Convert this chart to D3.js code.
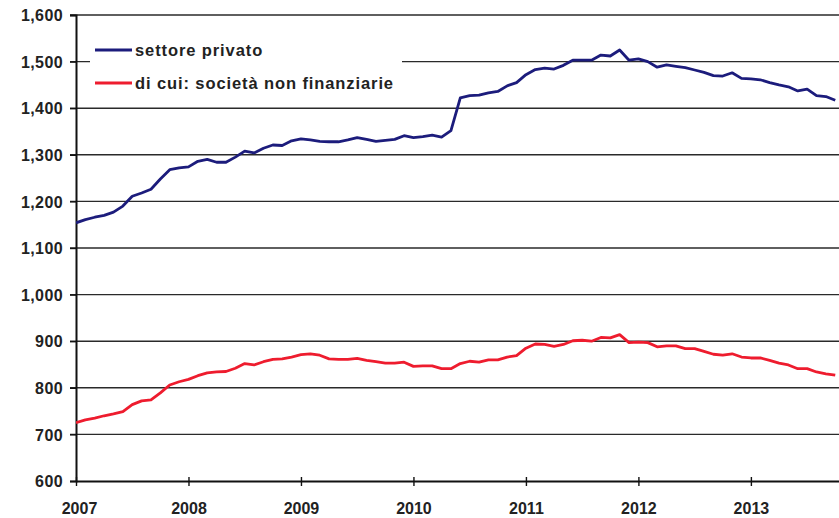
<!DOCTYPE html>
<html>
<head>
<meta charset="utf-8">
<title>Settore privato</title>
<style>
  body { margin: 0; background: #fff; }
  svg { display: block; font-family: Arial, "Liberation Sans", sans-serif; }
</style>
</head>
<body>
<svg id="chart" width="839" height="518"></svg>
<script src="https://cdn.jsdelivr.net/npm/d3@7"></script>
<script>
// monthly values from Jan 2007
var startYear = 2007;
var yearTicks = [2007, 2008, 2009, 2010, 2011, 2012, 2013];
var yTicks = [600, 700, 800, 900, 1000, 1100, 1200, 1300, 1400, 1500, 1600];
var seriesNames = ["settore privato", "di cui: società non finanziarie"];

var privato = [
  1154, 1161, 1166, 1170, 1177, 1190, 1211, 1218, 1226, 1248, 1268, 1272,
  1274, 1286, 1290, 1284, 1284, 1295, 1308, 1304, 1314, 1321, 1320, 1330,
  1334, 1332, 1329, 1328, 1328, 1332, 1337, 1333, 1329, 1331, 1333, 1341,
  1337, 1339, 1342, 1338, 1352, 1422, 1427, 1428, 1433, 1436, 1448, 1455,
  1472, 1483, 1486, 1484, 1492, 1503, 1503, 1503, 1514, 1512, 1525, 1503,
  1506, 1500, 1488, 1493, 1490, 1487, 1482, 1477, 1470, 1469, 1476, 1464,
  1463, 1461, 1455, 1450, 1446, 1437, 1441, 1427, 1425, 1417
];
var nonFin = [
  725, 731, 735, 740, 744, 749, 764, 772, 774, 789, 806, 813,
  818, 826, 832, 834, 835, 842, 852, 849, 856, 861, 862, 866,
  871, 873, 870, 862, 861, 861, 863, 859, 856, 853, 853, 855,
  846, 847, 847, 841, 841, 852, 857, 855, 860, 860, 866, 869,
  885, 894, 893, 889, 893, 901, 902, 900, 908, 907, 914, 897,
  898, 897, 888, 890, 890, 884, 884, 878, 872, 870, 873, 866,
  864, 864, 859, 853, 849, 841, 841, 834, 830, 827
];

var colors = ["#1c1c7c", "#ee1c2e"];

var svg = d3.select("#chart");
var width = 839, height = 518;
var plotLeft = 76, plotTop = 15, plotBottom = 481;

var x = d3.scaleLinear()
  .domain([0, 81.4])
  .range([plotLeft, width]);

var y = d3.scaleLinear()
  .domain([600, 1600])
  .range([plotBottom, plotTop]);

// gridlines
svg.append("g")
  .selectAll("line")
  .data(yTicks.slice(1))
  .enter().append("line")
  .attr("x1", plotLeft - 6)
  .attr("x2", width)
  .attr("y1", function (d) { return y(d) })
  .attr("y2", function (d) { return y(d) })
  .attr("stroke", "#2a2a2a")
  .attr("stroke-width", 1.4);

// y axis
var yAxis = svg.append("g")
  .attr("transform", "translate(" + plotLeft + ",0)")
  .call(d3.axisLeft(y).tickValues(yTicks).tickFormat(d3.format(",")).tickSize(6));
yAxis.select(".domain").attr("stroke", "#111").attr("stroke-width", 2);
yAxis.selectAll(".tick line").attr("stroke", "#111").attr("stroke-width", 1.4);
yAxis.selectAll("text")
  .attr("x", -13)
  .attr("dy", "0.36em")
  .style("font-size", "16px")
  .style("font-weight", "bold")
  .style("letter-spacing", "0.4px")
  .style("fill", "#222");

// x axis
var xAxis = svg.append("g")
  .attr("transform", "translate(0," + plotBottom + ")")
  .call(d3.axisBottom(x)
    .tickValues(yearTicks.map(function (yr) { return (yr - startYear) * 12 }))
    .tickFormat(function (m) { return startYear + m / 12 })
    .tickSizeInner(5).tickSizeOuter(0));
xAxis.select(".domain").attr("stroke", "#111").attr("stroke-width", 2);
xAxis.selectAll(".tick line").attr("stroke", "#111").attr("stroke-width", 1.4).attr("y1", -4);
xAxis.selectAll("text")
  .attr("y", 22)
  .attr("dy", "0.71em")
  .style("font-size", "16px")
  .style("font-weight", "bold")
  .style("fill", "#222");
xAxis.select(".tick text").attr("dx", 3);

// lines
var line = d3.line()
  .x(function (d, i) { return x(i) })
  .y(function (d) { return y(d) });

svg.append("defs").append("clipPath").attr("id", "clip")
  .append("rect").attr("x", plotLeft).attr("y", 0).attr("width", width - plotLeft).attr("height", plotBottom);

[nonFin, privato].forEach(function (vals, k) {
  svg.append("path")
    .datum(vals)
    .attr("clip-path", "url(#clip)")
    .attr("fill", "none")
    .attr("stroke", colors[1 - k])
    .attr("stroke-width", 2.8)
    .attr("stroke-linejoin", "round")
    .attr("d", line);
});

// legend
var legend = svg.append("g");
legend.append("rect")
  .attr("x", 90).attr("y", 36)
  .attr("width", 312).attr("height", 62)
  .attr("fill", "#fff");
seriesNames.forEach(function (name, i) {
  var ly = 50 + i * 33;
  legend.append("line")
    .attr("x1", 95).attr("x2", 132)
    .attr("y1", ly).attr("y2", ly)
    .attr("stroke", colors[i])
    .attr("stroke-width", 2.8);
  legend.append("text")
    .attr("x", 135).attr("y", ly)
    .attr("dy", "0.35em")
    .style("font-size", "16.5px")
    .style("font-weight", "bold")
    .style("letter-spacing", "0.9px")
    .style("fill", "#222")
    .text(name);
});
</script>
</body>
</html>
